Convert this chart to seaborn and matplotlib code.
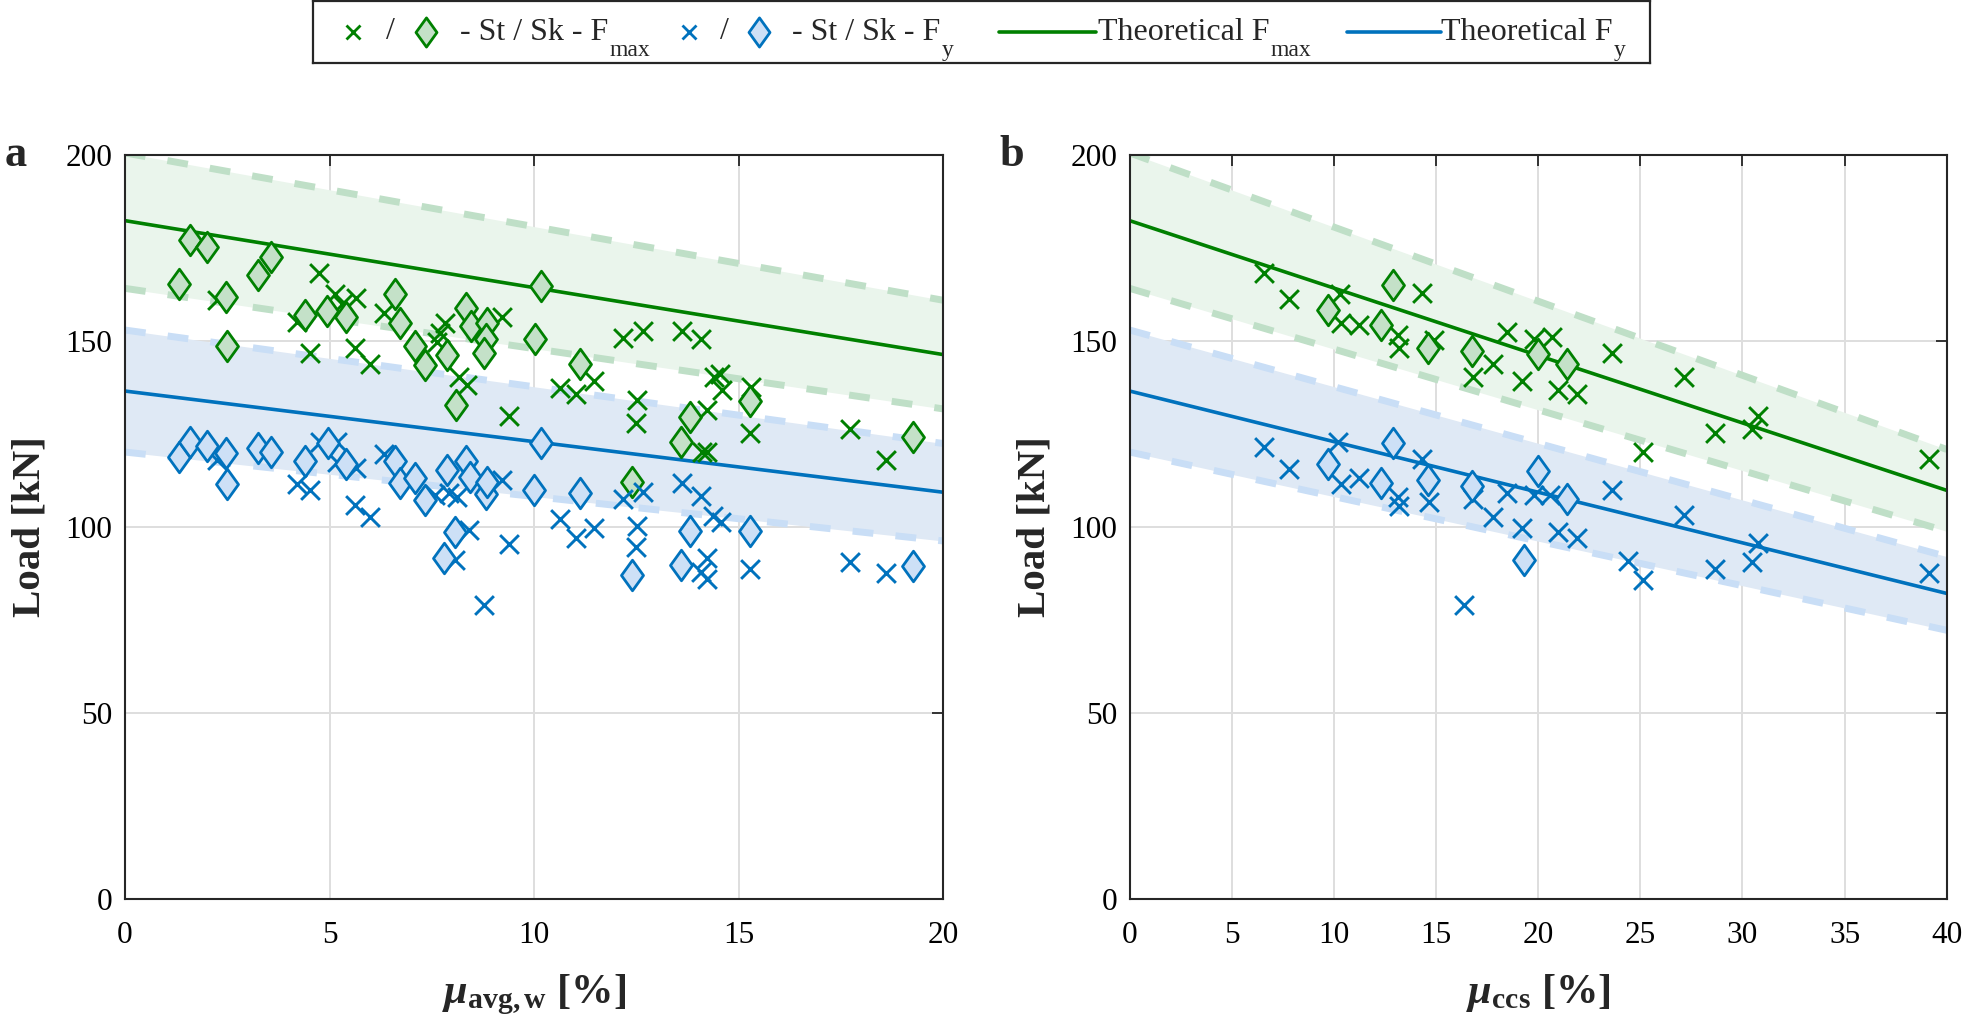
import numpy as np
import matplotlib
matplotlib.use("Agg")
import matplotlib.pyplot as plt
from matplotlib.path import Path
from matplotlib.lines import Line2D
import seaborn as sns

sns.set_theme(style="white")
plt.rcParams["font.family"] = ["Liberation Serif", "DejaVu Serif"]
plt.rcParams["mathtext.fontset"] = "custom"
plt.rcParams["mathtext.rm"] = "Liberation Serif"
plt.rcParams["mathtext.it"] = "Liberation Serif:italic"
plt.rcParams["mathtext.bf"] = "Liberation Serif:bold"
plt.rcParams["mathtext.bfit"] = "Liberation Serif:bold:italic"

# ---------------- data : panel a (x = mu_avg,w [%]) ----------------
a_st_fmax_x = [4.75, 2.24, 4.20, 5.14, 5.30, 5.65, 6.32, 4.53, 5.63, 5.98, 9.22, 7.83, 7.71,
               7.63, 8.16, 8.36, 9.38, 12.18, 12.66, 13.62, 14.09, 10.64, 11.03, 11.47, 12.52,
               12.50, 14.39, 14.54, 14.60, 14.23, 15.29, 15.27, 14.11, 14.23, 17.71, 18.60]
a_st_fmax_y = [168.1, 160.9, 155.1, 162.7, 160.0, 161.4, 157.6, 146.8, 148.2, 143.7, 156.3, 154.7, 152.0,
               149.7, 140.3, 138.1, 129.8, 150.8, 152.6, 152.6, 150.5, 137.2, 135.6, 139.2, 134.1,
               127.8, 140.3, 141.0, 136.7, 131.4, 137.6, 125.1, 120.2, 120.2, 126.4, 117.9]

a_sk_fmax_x = [1.59, 2.01, 3.56, 3.26, 1.32, 2.46, 2.50, 4.40, 4.95, 5.40, 6.59, 6.73, 7.10, 7.34,
               7.87, 8.34, 8.46, 8.85, 8.83, 8.77, 8.10, 10.03, 10.17, 11.12, 13.81, 13.58, 15.27,
               19.25, 12.40]
a_sk_fmax_y = [177.1, 175.3, 172.6, 167.7, 165.2, 161.8, 148.7, 156.9, 158.1, 156.5, 162.7, 154.9,
               148.6, 143.5, 146.2, 158.9, 153.9, 154.7, 150.4, 146.6, 132.7, 150.6, 164.8, 143.7,
               129.6, 122.9, 133.9, 124.2, 112.1]

a_st_fy_x = [2.24, 4.20, 4.53, 4.77, 5.18, 5.18, 5.65, 5.63, 5.98, 6.32, 7.59, 7.91, 8.12, 8.41,
             8.07, 9.22, 9.38, 8.78, 10.64, 11.03, 11.47, 12.18, 12.66, 12.52, 12.50, 13.62, 14.09,
             14.38, 14.56, 14.23, 14.07, 14.23, 15.27, 17.71, 18.60]
a_st_fy_y = [117.9, 111.5, 110.0, 122.8, 122.8, 117.5, 115.7, 105.8, 102.7, 119.7, 108.5, 109.0, 108.1,
             99.1, 91.0, 112.6, 95.5, 79.0, 102.0, 97.0, 99.7, 107.6, 109.4, 100.2, 94.6, 111.7, 108.3,
             102.9, 101.3, 91.7, 87.9, 85.9, 88.8, 90.6, 87.6]

a_sk_fy_x = [1.32, 1.59, 2.01, 2.46, 2.49, 3.26, 3.57, 4.40, 4.96, 5.40, 6.59, 6.73, 7.10, 7.34,
             7.87, 8.34, 8.44, 8.83, 8.85, 8.07, 7.79, 9.99, 10.17, 11.12, 12.40, 13.81, 13.58,
             15.27, 19.25]
a_sk_fy_y = [118.8, 122.8, 121.7, 119.9, 111.5, 121.2, 120.2, 117.7, 122.4, 117.0, 117.7, 111.7,
             113.0, 107.2, 115.2, 117.7, 113.4, 108.7, 112.1, 98.7, 91.5, 109.9, 122.4, 109.0,
             87.0, 98.9, 89.7, 98.9, 89.4]

a_theory_x = [0, 20]
a_theory_fmax = [182.3, 146.3]
a_theory_fmax_hi = [200.5, 160.9]
a_theory_fmax_lo = [164.1, 131.7]
a_theory_fy = [136.5, 109.3]
a_theory_fy_hi = [152.9, 122.4]
a_theory_fy_lo = [120.1, 96.2]

# ---------------- data : panel b (x = mu_ccs [%]) ----------------
b_st_fmax_x = [6.59, 7.81, 10.29, 10.34, 11.24, 13.15, 13.20, 14.29, 14.91, 16.79, 17.80, 18.45,
               19.19, 19.81, 20.66, 23.59, 20.98, 21.88, 27.15, 30.74, 30.49, 28.65, 25.14, 39.14]
b_st_fmax_y = [168.1, 161.2, 162.7, 154.7, 154.2, 151.5, 148.2, 162.9, 150.2, 140.2, 143.9, 152.4,
               139.2, 150.6, 151.1, 146.6, 136.9, 135.7, 140.3, 129.8, 126.4, 125.1, 120.2, 118.1]

b_sk_fmax_x = [9.69, 12.90, 12.30, 14.59, 16.74, 20.00, 21.39]
b_sk_fmax_y = [158.2, 165.0, 154.2, 148.2, 147.3, 146.4, 143.9]

b_st_fy_x = [6.59, 7.81, 10.21, 10.34, 11.24, 13.15, 13.20, 14.29, 14.67, 16.79, 17.80, 18.45,
             19.19, 19.81, 16.36, 20.57, 20.98, 21.88, 23.59, 24.38, 25.14, 27.15, 28.65, 30.74,
             30.49, 39.14]
b_st_fy_y = [121.5, 115.5, 122.8, 111.4, 113.0, 108.1, 105.6, 118.2, 106.7, 107.6, 102.7, 109.2,
             99.7, 108.5, 79.0, 108.5, 98.7, 97.1, 109.9, 90.9, 85.7, 103.1, 88.8, 95.7, 90.6, 87.6]

b_sk_fy_x = [9.69, 12.90, 12.30, 14.59, 16.74, 19.32, 20.00, 21.39]
b_sk_fy_y = [116.8, 122.6, 111.7, 112.7, 110.9, 91.2, 115.1, 107.4]

b_theory_x = [0, 40]
b_theory_fmax = [182.3, 109.8]
b_theory_fmax_hi = [200.5, 120.8]
b_theory_fmax_lo = [164.1, 98.8]
b_theory_fy = [136.5, 82.1]
b_theory_fy_hi = [152.9, 92.0]
b_theory_fy_lo = [120.1, 72.2]

# legend labels
legend_main = ["- St / Sk - F", "- St / Sk - F", "Theoretical F", "Theoretical F"]
legend_sub = ["max", "y", "max", "y"]

# ---------------- styling ----------------
GREEN = "#008000"
BLUE = "#0072BD"
G_FILL = "#c4e1c8"
B_FILL = "#cde0f6"
G_BAND = "#eaf5ec"
B_BAND = "#dfe9f5"
G_DASH = "#bfdfc7"
B_DASH = "#c9def6"

diamond = Path([(0, 1), (0.72, 0), (0, -1), (-0.72, 0), (0, 1)],
               [Path.MOVETO, Path.LINETO, Path.LINETO, Path.LINETO, Path.CLOSEPOLY])

TICK_FS = 22.5
LABEL_FS = 29.5
W, H = 1965, 1032

fig = plt.figure(figsize=(W / 100, H / 100), dpi=100)
ax_a = fig.add_axes([0.0636, 0.129, 0.4164, 0.721])
ax_b = fig.add_axes([0.5749, 0.129, 0.4158, 0.721])


def draw_panel(ax, tx, fmax, fmax_hi, fmax_lo, fy, fy_hi, fy_lo,
               stfx, stfy, skfx, skfy, styx, styy, skyx, skyy, xmax, xticks):
    ax.fill_between(tx, fmax_lo, fmax_hi, color=G_BAND, lw=0, zorder=1)
    ax.fill_between(tx, fy_lo, fy_hi, color=B_BAND, lw=0, zorder=1)
    for yy, c in [(fmax_hi, G_DASH), (fmax_lo, G_DASH), (fy_hi, B_DASH), (fy_lo, B_DASH)]:
        ax.plot(tx, yy, color=c, lw=5, dashes=(3.0, 3.2), solid_capstyle="butt",
                dash_capstyle="butt", zorder=2)
    sns.lineplot(x=tx, y=fmax, color=GREEN, lw=2.6, ax=ax, zorder=3)
    sns.lineplot(x=tx, y=fy, color=BLUE, lw=2.6, ax=ax, zorder=3)
    sns.scatterplot(x=stfx, y=stfy, marker="x", s=13.5 ** 2, color=GREEN, linewidth=2.1,
                    ax=ax, zorder=4)
    sns.scatterplot(x=skfx, y=skfy, marker=diamond, s=22 ** 2, color=G_FILL, edgecolor=GREEN,
                    linewidth=2.0, ax=ax, zorder=5)
    sns.scatterplot(x=styx, y=styy, marker="x", s=13.5 ** 2, color=BLUE, linewidth=2.1,
                    ax=ax, zorder=6)
    sns.scatterplot(x=skyx, y=skyy, marker=diamond, s=22 ** 2, color=B_FILL, edgecolor=BLUE,
                    linewidth=2.0, ax=ax, zorder=7)
    ax.set_xlim(0, xmax)
    ax.set_ylim(0, 200)
    ax.set_xticks(xticks)
    ax.set_yticks([0, 50, 100, 150, 200])
    ax.grid(True, color="#dedede", lw=1.4, zorder=0)
    ax.set_axisbelow(True)
    ax.tick_params(direction="in", length=8, width=1.3, top=True, right=True,
                   labelsize=TICK_FS, colors="#262626", labelcolor="black")
    ax.tick_params(axis="x", pad=16)
    ax.tick_params(axis="y", pad=9)
    for s in ax.spines.values():
        s.set_visible(True)
        s.set_color("#262626")
        s.set_linewidth(1.5)
        s.set_zorder(10)
    ax.set_ylabel("Load [kN]", fontsize=LABEL_FS, fontweight="bold", labelpad=12)


draw_panel(ax_a, a_theory_x, a_theory_fmax, a_theory_fmax_hi, a_theory_fmax_lo,
           a_theory_fy, a_theory_fy_hi, a_theory_fy_lo,
           a_st_fmax_x, a_st_fmax_y, a_sk_fmax_x, a_sk_fmax_y,
           a_st_fy_x, a_st_fy_y, a_sk_fy_x, a_sk_fy_y, 20, [0, 5, 10, 15, 20])
draw_panel(ax_b, b_theory_x, b_theory_fmax, b_theory_fmax_hi, b_theory_fmax_lo,
           b_theory_fy, b_theory_fy_hi, b_theory_fy_lo,
           b_st_fmax_x, b_st_fmax_y, b_sk_fmax_x, b_sk_fmax_y,
           b_st_fy_x, b_st_fy_y, b_sk_fy_x, b_sk_fy_y, 40, [0, 5, 10, 15, 20, 25, 30, 35, 40])

ax_a.set_xlabel(r"$\mathbfit{\mu}_{\mathbf{avg,w}}$ [%]", fontsize=LABEL_FS + 1, fontweight="bold", labelpad=16)
ax_b.set_xlabel(r"$\mathbfit{\mu}_{\mathbf{ccs}}$ [%]", fontsize=LABEL_FS + 1, fontweight="bold", labelpad=16)

fig.text(0.0025, 0.850, "a", fontsize=32, fontweight="bold", va="center", ha="left")
fig.text(0.5088, 0.850, "b", fontsize=32, fontweight="bold", va="center", ha="left")

# ---------------- legend (built in its own framed axes, pixel units) ----------------
LX0, LW_, LH = 313, 1337, 63
lax = fig.add_axes([LX0 / W, 1 - LH / H, LW_ / W, (LH - 1) / H])
lax.set_xlim(0, LW_)
lax.set_ylim(LH, 0)
lax.set_xticks([])
lax.set_yticks([])
lax.set_facecolor("white")
for s in lax.spines.values():
    s.set_visible(True)
    s.set_color("#262626")
    s.set_linewidth(1.6)

YC = 31
LEG_FS = 23
SUB_FS = 17
# symbol groups
lax.add_line(Line2D([40], [YC], marker="x", ls="", color=GREEN, ms=10, mew=2))
lax.text(77, YC, "/", fontsize=LEG_FS, ha="center", va="center")
lax.add_line(Line2D([113], [YC], marker=diamond, ls="", mfc=G_FILL, mec=GREEN, ms=21, mew=2))
lax.add_line(Line2D([376], [YC], marker="x", ls="", color=BLUE, ms=10, mew=2))
lax.text(411, YC, "/", fontsize=LEG_FS, ha="center", va="center")
lax.add_line(Line2D([446], [YC], marker=diamond, ls="", mfc=B_FILL, mec=BLUE, ms=21, mew=2))
lax.add_line(Line2D([686, 783], [YC, YC], color=GREEN, lw=2.6))
lax.add_line(Line2D([1034, 1128], [YC, YC], color=BLUE, lw=2.6))

text_x = [147, 479, 785, 1128]
renderer = fig.canvas.get_renderer()
inv = lax.transData.inverted()
for tx_, main, sub in zip(text_x, legend_main, legend_sub):
    t = lax.text(tx_, YC + 1, main, fontsize=LEG_FS, ha="left", va="center")
    bb = t.get_window_extent(renderer=renderer)
    x_end = inv.transform((bb.x1, bb.y0))[0]
    lax.text(x_end + 1, YC + 19, sub, fontsize=SUB_FS, ha="left", va="center")

fig.savefig("out.png", dpi=100)
